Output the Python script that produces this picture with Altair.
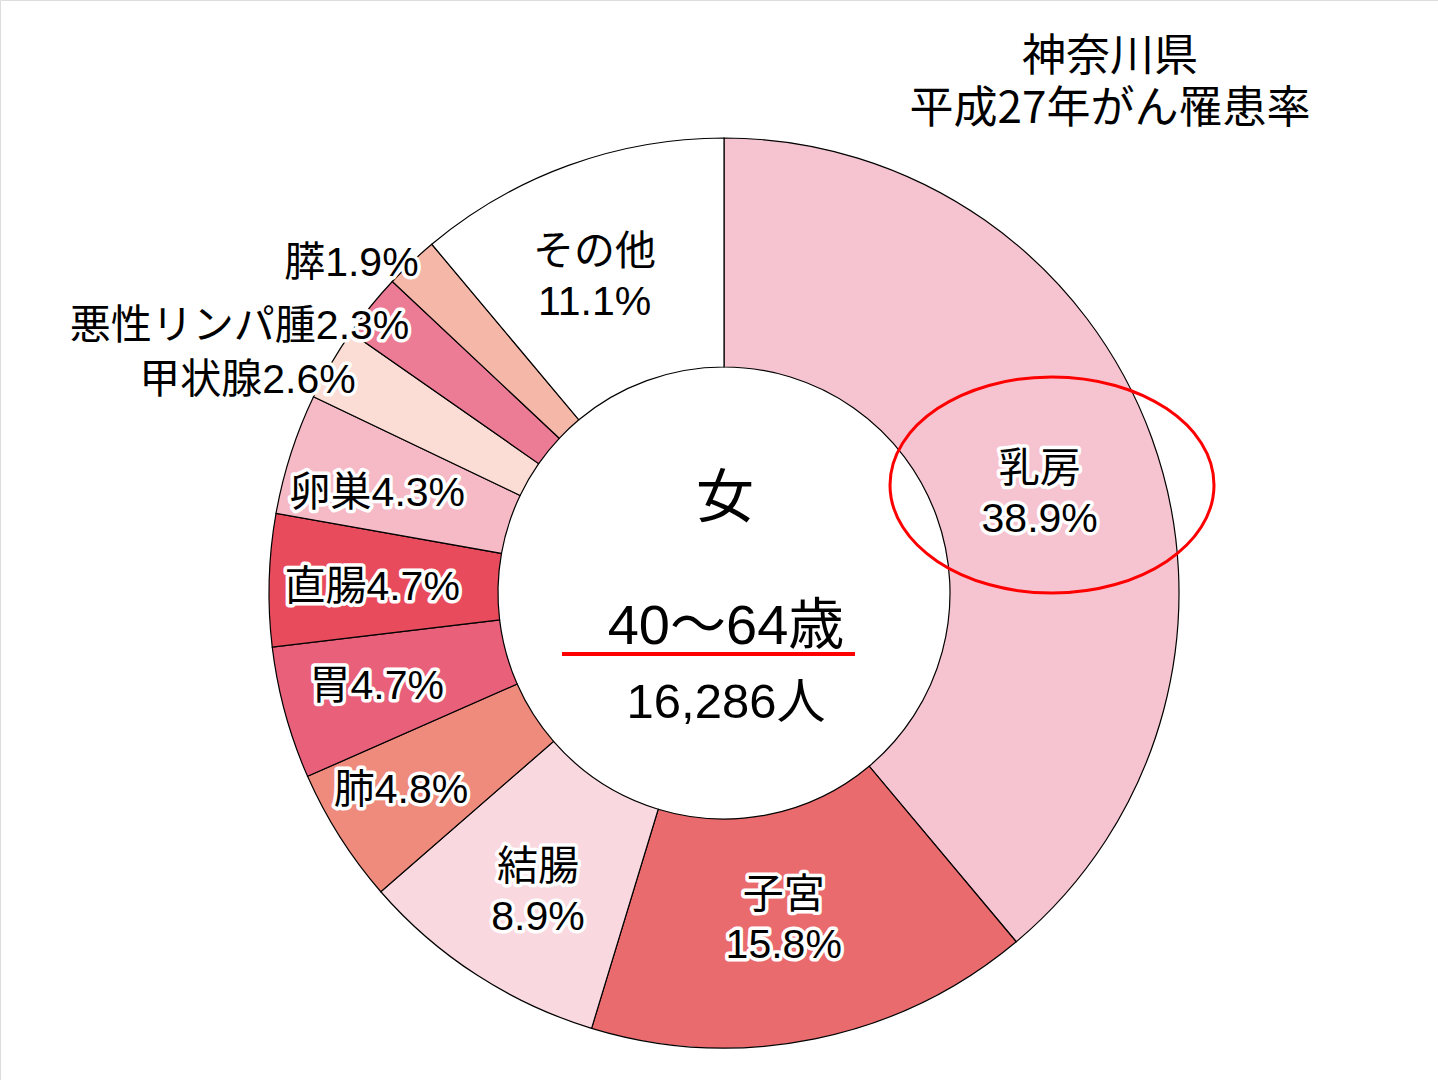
import altair as alt
import pandas as pd

cats = ["乳房", "子宮", "結腸", "肺", "胃", "直腸", "卵巣", "甲状腺", "悪性リンパ腫", "膵", "その他"]
vals = [38.9, 15.8, 8.9, 4.8, 4.7, 4.7, 4.3, 2.6, 2.3, 1.9, 11.1]
colors = ["#F6C4D0", "#EA6B6D", "#F9D8DF", "#EE8B7C", "#E9607A", "#E84C5C",
          "#F5BAC6", "#FBDDD5", "#EC7B95", "#F5B8A8", "#FFFFFF"]
two_line = ["乳房", "子宮", "結腸", "その他"]
outer = ["甲状腺", "悪性リンパ腫", "膵"]
title_lines = ["神奈川県", "平成27年がん罹患率"]
center_lines = ["女", "40〜64歳", "16,286人"]

rows = []
for i, (c, v) in enumerate(zip(cats, vals)):
    lab = f"{c}\n{v}%" if c in two_line else f"{c}{v}%"
    rows.append({"idx": i, "cat": c, "val": v, "label": lab})
df = pd.DataFrame(rows)

# layout (label placement: radius, dx, dy per category)
CX, CY = 724, 593
FONT = "Liberation Sans, Noto Sans CJK JP, sans-serif"
label_layout = {
    "乳房": (338, -2, -8),
    "子宮": (309, -2, 0),
    "結腸": (333, -5, -4),
    "その他": (364, -5, 2),
    "肺": (379, -3, -5),
    "胃": (360, 0, -1),
    "直腸": (352, 0, 5),
    "卵巣": (361, -3, 11),
    "甲状腺": (424, -2, 2),
    "悪性リンパ腫": (413, 6, -6),
    "膵": (449, 3, -3),
}

base = alt.Chart(df).encode(
    theta=alt.Theta("val:Q", stack=True),
    order=alt.Order("idx:Q"),
)

arc = base.mark_arc(outerRadius=455, innerRadius=226, stroke="black", strokeWidth=1.2).encode(
    color=alt.Color("cat:N", scale=alt.Scale(domain=cats, range=colors), legend=None),
    x=alt.value(CX), y=alt.value(CY),
)

layers = [arc]
for c in cats:
    r, dx, dy = label_layout[c]
    align = "right" if c in outer else "center"
    b = base.transform_calculate(t=f"datum.cat == '{c}' ? datum.label : ''")
    common = dict(radius=r, align=align, baseline="middle", font=FONT, fontSize=41,
                  lineBreak="\n", lineHeight=50, dx=dx, dy=dy)
    layers.append(
        b.mark_text(stroke="white", strokeWidth=7, strokeJoin="round", fill="white", **common)
        .encode(text="t:N", x=alt.value(CX), y=alt.value(CY))
    )
    layers.append(
        b.mark_text(fill="black", **common)
        .encode(text="t:N", x=alt.value(CX), y=alt.value(CY))
    )

# center texts
cdf = pd.DataFrame({"t": center_lines, "i": [0, 1, 2]})
center_pos = [(725, 500, 58), (726, 627, 56), (726, 703, 49)]
for k, (x, y, s) in enumerate(center_pos):
    layers.append(
        alt.Chart(cdf).transform_filter(f"datum.i == {k}").mark_text(
            font=FONT, fontSize=s, align="center", baseline="middle", color="black"
        ).encode(text="t:N", x=alt.value(x), y=alt.value(y))
    )

# red underline
layers.append(
    alt.Chart(pd.DataFrame({"a": [0]})).mark_rule(color="#FF0000", strokeWidth=4).encode(
        x=alt.value(562), x2=alt.value(855), y=alt.value(654)
    )
)

# red ellipse highlighting 乳房
ellipse_path = "M -1 0 A 1 0.667 0 1 1 1 0 A 1 0.667 0 1 1 -1 0 Z"
layers.append(
    alt.Chart(pd.DataFrame({"a": [0]})).mark_point(
        shape=ellipse_path, size=324 * 324, filled=False, color="#FF0000",
        strokeWidth=3, opacity=1
    ).encode(x=alt.value(1052), y=alt.value(485))
)

# title (two lines)
tdf = pd.DataFrame({"t": title_lines, "i": [0, 1]})
for k, y in enumerate([58, 110]):
    layers.append(
        alt.Chart(tdf).transform_filter(f"datum.i == {k}").mark_text(
            font="Noto Sans CJK JP", fontSize=44, align="center", baseline="middle",
            color="black"
        ).encode(text="t:N", x=alt.value(1110), y=alt.value(y))
    )

chart = alt.layer(*layers).properties(
    width=1438, height=1080, autosize="none", padding=0
).configure_view(strokeWidth=0, stroke="transparent").configure(background="white")

chart.save("out.html", embed_options={"renderer": "svg", "actions": False})
